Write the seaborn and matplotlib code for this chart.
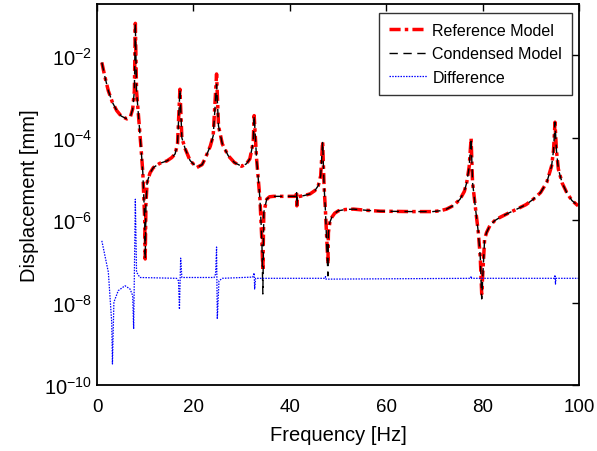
import numpy as np
import pandas as pd
import matplotlib
matplotlib.use("Agg")
import matplotlib.pyplot as plt
import seaborn as sns

# ---- data (frequency in Hz, displacement as log10(mm)) ----
freq_ref = [1.0, 1.6, 2.35, 3.2, 4.1, 5.0, 6.2, 6.9, 7.4, 7.75, 7.95, 8.2, 8.8, 9.1, 9.5, 9.9, 10.0,
            10.15, 10.4, 11.0, 11.7, 13.0, 14.5, 15.5, 16.2, 16.7, 17.2, 17.6, 18.3, 19.3, 20.7,
            21.8, 22.4, 23.5, 24.1, 24.8, 25.2, 26.0, 27.2, 28.5, 30.0, 31.0, 31.7, 32.4, 32.6,
            33.1, 33.8, 34.2, 34.4, 34.6, 35.2, 35.8, 36.6, 39.0, 41.3, 41.4, 41.45, 41.6, 43.0,
            44.2, 45.2, 45.9, 46.4, 46.8, 47.1, 47.4, 47.9, 48.0, 48.3, 48.7, 49.3, 50.1, 51.5,
            53.2, 56.0, 58.7, 65.0, 69.7, 71.2, 72.5, 74.0, 75.3, 76.2, 76.7, 77.2, 77.6, 77.9,
            78.5, 79.1, 79.5, 79.8, 80.4, 80.8, 81.5, 82.5, 83.6, 85.3, 87.1, 89.0, 90.5, 92.0,
            93.3, 94.3, 94.7, 95.0, 95.3, 95.7, 96.5, 97.4, 98.5, 99.8]
disp_ref_log10 = [-2.17, -2.50, -2.86, -3.14, -3.34, -3.47, -3.54, -3.50, -3.30, -2.86, -1.22, -2.86,
                  -3.75, -4.20, -4.84, -6.00, -6.94,
                  -5.60, -5.08, -4.85, -4.72, -4.62, -4.56, -4.48, -4.39, -4.15, -2.82, -4.00, -4.27,
                  -4.55, -4.72,
                  -4.65, -4.51, -4.20, -3.95, -2.45, -3.71, -4.15, -4.43, -4.60, -4.69, -4.63, -4.51,
                  -4.11, -3.46,
                  -4.51, -5.49, -6.50, -7.23, -5.81, -5.49, -5.43, -5.42, -5.42, -5.42, -5.30, -5.65,
                  -5.43, -5.40,
                  -5.36, -5.28, -5.16, -4.92, -4.09, -5.16, -5.81, -7.06, -6.30, -6.05, -5.93, -5.83,
                  -5.77, -5.74,
                  -5.73, -5.76, -5.78, -5.79, -5.79, -5.77, -5.73, -5.64, -5.49, -5.30, -5.08, -4.70,
                  -4.01, -5.08,
                  -5.70, -6.30, -6.90, -7.79, -6.46, -6.30, -6.13, -6.01, -5.93, -5.83, -5.73, -5.62,
                  -5.49, -5.33,
                  -5.08, -4.68, -4.30, -3.62, -4.30, -4.76, -5.10, -5.32, -5.52, -5.65]

freq_cond = freq_ref
disp_cond_log10 = [-2.17, -2.50, -2.86, -3.14, -3.34, -3.47, -3.54, -3.50, -3.30, -2.86, -1.22, -2.86,
                   -3.75, -4.20, -4.84, -6.00, -6.94,
                   -5.60, -5.08, -4.85, -4.72, -4.62, -4.56, -4.48, -4.39, -4.15, -2.82, -4.00, -4.27,
                   -4.55, -4.72,
                   -4.65, -4.51, -4.20, -3.95, -2.70, -3.71, -4.15, -4.43, -4.60, -4.69, -4.63, -4.51,
                   -4.11, -3.46,
                   -4.51, -5.49, -6.50, -7.79, -5.81, -5.49, -5.43, -5.42, -5.42, -5.42, -5.30, -5.65,
                   -5.43, -5.40,
                   -5.36, -5.28, -5.16, -4.92, -4.09, -5.16, -5.81, -7.35, -6.30, -6.05, -5.93, -5.83,
                   -5.77, -5.74,
                   -5.73, -5.76, -5.78, -5.79, -5.79, -5.77, -5.73, -5.64, -5.49, -5.30, -5.08, -4.70,
                   -4.01, -5.08,
                   -5.70, -6.30, -6.90, -7.91, -6.46, -6.30, -6.13, -6.01, -5.93, -5.83, -5.73, -5.62,
                   -5.49, -5.33,
                   -5.08, -4.68, -4.30, -3.62, -4.30, -4.76, -5.10, -5.32, -5.52, -5.65]

freq_diff = [1.0, 2.35, 3.05, 3.2, 3.5, 4.4, 5.8, 6.85, 7.4, 7.6, 7.95, 8.2, 8.9, 16.5, 16.9, 17.1,
             17.35, 17.6, 24.3, 24.6, 24.8, 24.95, 25.3, 26.0, 32.3, 32.6, 32.7, 32.9, 47.3, 47.4,
             47.5, 77.5, 77.6, 77.7, 94.9, 95.0, 95.1, 95.2, 100.0]
disp_diff_log10 = [-6.50, -7.26, -8.48, -9.49, -7.99, -7.71, -7.59, -7.67, -7.83, -8.64, -5.49, -7.26,
                   -7.39, -7.41, -7.47, -8.16, -6.92, -7.39, -7.39, -7.30, -6.65, -8.40, -7.47, -7.41,
                   -7.38, -7.28, -7.67, -7.41, -7.41, -7.37, -7.43, -7.41, -7.36, -7.41, -7.41, -7.33,
                   -7.55, -7.41, -7.41]

series_names = ["Reference Model", "Condensed Model", "Difference"]
y_ticks_exp = [-10, -8, -6, -4, -2]
x_ticks = [0, 20, 40, 60, 80, 100]

# ---- build table ----
frames = []
for name, f, d in zip(series_names,
                      [freq_ref, freq_cond, freq_diff],
                      [disp_ref_log10, disp_cond_log10, disp_diff_log10]):
    frames.append(pd.DataFrame({"freq": f, "disp": np.power(10.0, d), "series": name}))
df = pd.concat(frames, ignore_index=True)

sns.set_style("white")
plt.rcParams["font.family"] = ["Liberation Sans", "DejaVu Sans"]
plt.rcParams["mathtext.fontset"] = "custom"
plt.rcParams["mathtext.rm"] = "Liberation Sans"
plt.rcParams["mathtext.it"] = "Liberation Sans:italic"
for k in ["text.color", "axes.labelcolor", "xtick.color", "ytick.color", "axes.edgecolor"]:
    plt.rcParams[k] = "black"

fig = plt.figure(figsize=(5.97, 4.52), dpi=100)
ax = fig.add_axes([0.1625, 0.146, 0.8075, 0.843])

styles = {
    "Reference Model": dict(color="red", lw=2.5, ls=(0, (3.2, 1.2, 1, 1.2))),
    "Condensed Model": dict(color="black", lw=1.0, ls=(0, (6, 4))),
    "Difference": dict(color="blue", lw=0.9, ls=(0, (1.2, 1.0))),
}
for name in series_names:
    st = styles[name]
    sns.lineplot(data=df[df["series"] == name], x="freq", y="disp", ax=ax,
                 estimator=None, sort=False, color=st["color"], linewidth=st["lw"],
                 linestyle=st["ls"], label=name)

ax.set_yscale("log")
ax.set_xlim(0, 100)
ax.set_ylim(1e-10, 10 ** -0.75)
ax.set_xticks(x_ticks)
ax.set_yticks([10.0 ** e for e in y_ticks_exp])
ax.yaxis.set_minor_locator(matplotlib.ticker.NullLocator())
ax.tick_params(axis="both", which="major", direction="in", length=5, width=1.0,
               top=True, right=True)
ax.tick_params(axis="x", labelsize=13.5, pad=9.5)
ax.tick_params(axis="y", labelsize=14.5, pad=3.5)
for sp in ax.spines.values():
    sp.set_linewidth(1.3)
    sp.set_color("black")
    sp.set_visible(True)

ax.set_xlabel("Frequency [Hz]", fontsize=14.5, labelpad=7)
ax.set_ylabel("Displacement [mm]", fontsize=14.5, labelpad=4)

leg = ax.legend(loc="upper right", bbox_to_anchor=(0.9855, 0.976), borderaxespad=0,
                fontsize=11.5, frameon=True, fancybox=False, edgecolor="black",
                handlelength=2.4, handletextpad=0.35, labelspacing=0.52, borderpad=0.62)
leg.get_frame().set_linewidth(1.0)

fig.savefig("out.png", dpi=100)
